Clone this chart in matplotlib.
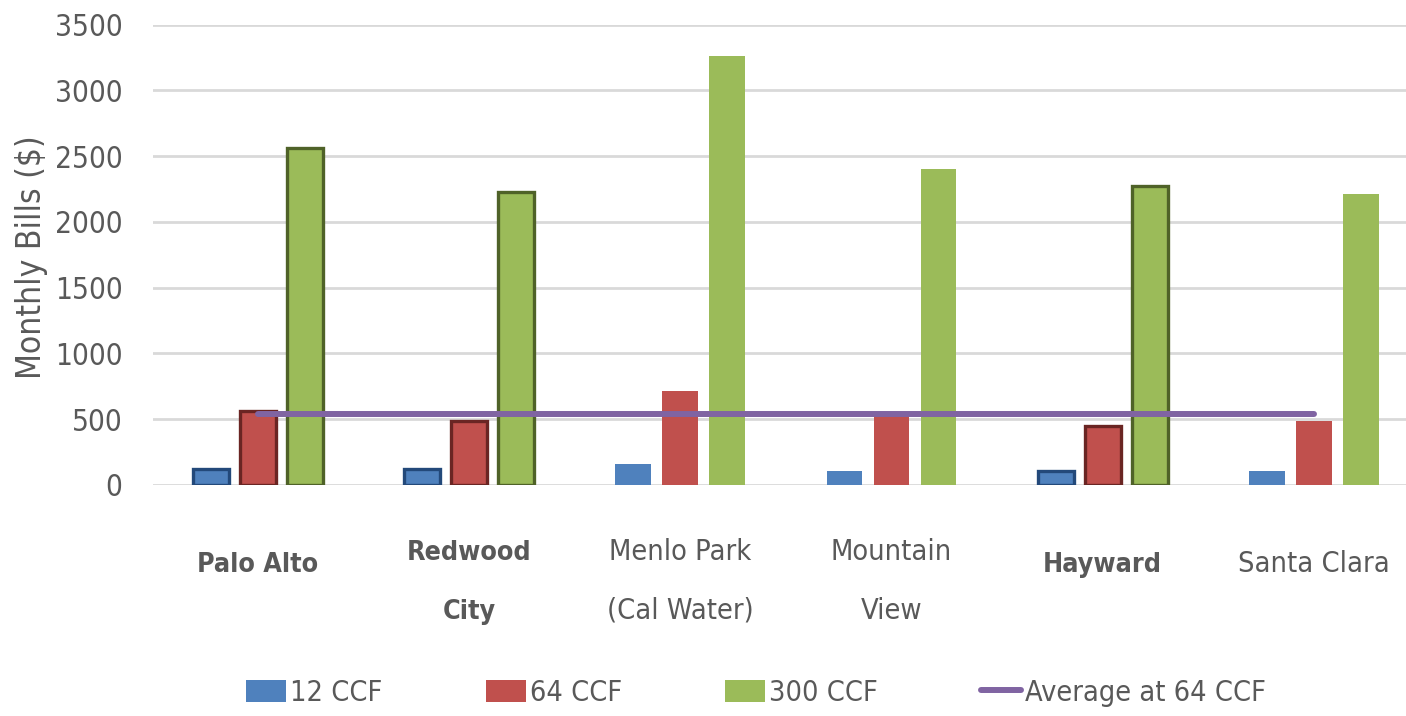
import matplotlib
matplotlib.use("Agg")
import matplotlib.pyplot as plt
from matplotlib import font_manager
from matplotlib.font_manager import FontProperties
from matplotlib.textpath import TextPath
from matplotlib.patches import Patch
from matplotlib.lines import Line2D
from matplotlib.transforms import blended_transform_factory
import numpy as np

# Monthly water bills ($) at three usage levels
cities = ["Palo Alto", "Redwood\nCity", "Menlo Park\n(Cal Water)", "Mountain\nView", "Hayward", "Santa Clara"]
highlighted = [True, True, False, False, True, False]
bill_12 = [125, 125, 160, 110, 105, 110]
bill_64 = [565, 490, 715, 540, 445, 489]
bill_300 = [2565, 2225, 3265, 2400, 2270, 2215]
series_names = ["12 CCF", "64 CCF", "300 CCF"]
avg_name = "Average at 64 CCF"
y_ticks = [0, 500, 1000, 1500, 2000, 2500, 3000, 3500]

PREFS = ["Liberation Sans Narrow", "Roboto Condensed", "Open Sans Condensed",
         "DejaVu Sans Condensed", "Noto Sans Condensed", "Arial Narrow"]


def _weight(f):
    w = f.weight
    if isinstance(w, str):
        w = font_manager.weight_dict.get(w, 400)
    return w


def _narrow_faces():
    out = []
    for f in font_manager.fontManager.ttflist:
        narrowish = ("Narrow" in f.name or "Condensed" in f.name or
                     "Narrow" in f.fname or "Condensed" in f.fname or
                     str(f.stretch) in ("condensed", "semi-condensed", "extra-condensed"))
        if narrowish and f.style == "normal" and "Sans" in (f.name + f.fname) and "Mono" not in f.name:
            out.append(f)
    return out


def _rank(f):
    for i, p in enumerate(PREFS):
        if p.split()[0] in f.name or p.replace(" ", "") in f.fname:
            return i
    return len(PREFS)


def pick_fonts():
    faces = _narrow_faces()
    regs = sorted([f for f in faces if abs(_weight(f) - 400) <= 100],
                  key=lambda f: (abs(_weight(f) - 400), _rank(f)))
    if not regs:
        return (FontProperties(family="Liberation Sans"),
                FontProperties(family="Liberation Sans", weight="bold"))
    reg = regs[0]
    same = [f for f in faces if f.name == reg.name and _weight(f) >= 600]
    if not same:
        same = [f for f in faces if _weight(f) >= 600]
    if same:
        same.sort(key=lambda f: (abs(_weight(f) - 700), f.name != reg.name))
        bold = FontProperties(fname=same[0].fname)
    else:
        bold = FontProperties(fname=reg.fname, weight="bold")
    return FontProperties(fname=reg.fname), bold


fp_reg, fp_bold = pick_fonts()


def fit_size(text, fp, target_px, max_pt):
    p = fp.copy()
    p.set_size(10)
    w = TextPath((0, 0), text, prop=p).get_extents().width / 10.0
    return min(target_px * 72 / 100 / w, max_pt)


def props(fp, size):
    p = fp.copy()
    p.set_size(size)
    return p


tick_size = fit_size("3500", fp_reg, 64, 27.5)
cat_size_reg = fit_size("Santa Clara", fp_reg, 147, 26)
cat_size_bold = fit_size("Palo Alto", fp_bold, 118, 26)
leg_size = fit_size(avg_name, fp_reg, 239, 26)
ylab_size = fit_size("Monthly Bills ($)", fp_reg, 293, 24)

text_color = "#595959"
fills = ["#4F81BD", "#C0504D", "#9BBB59"]
edges = ["#23497A", "#6A2523", "#4F6228"]
avg_color = "#8064A2"

W, H = 1406, 716
fig = plt.figure(figsize=(W / 100, H / 100), dpi=100)
ax = fig.add_axes([153 / W, 1 - 485 / H, (W - 153) / W, (485 - 24.7) / H])

x = np.arange(len(cities))
bar_w = 0.17
offset = 0.2225
for k, vals in enumerate([bill_12, bill_64, bill_300]):
    for i, v in enumerate(vals):
        if highlighted[i]:
            ax.bar(x[i] + (k - 1) * offset, v, width=bar_w, color=fills[k],
                   edgecolor=edges[k], linewidth=2.4, zorder=3)
        else:
            ax.bar(x[i] + (k - 1) * offset, v, width=bar_w, color=fills[k],
                   edgecolor="none", zorder=3)

avg64 = float(np.mean(bill_64))
ax.plot([x[0], x[-1]], [avg64, avg64], color=avg_color, lw=4.3,
        solid_capstyle="round", zorder=4)

ax.set_ylim(0, 3500)
ax.set_xlim(-0.497, 5.436)
ax.set_yticks(y_ticks)
ax.set_yticklabels([str(t) for t in y_ticks], fontproperties=props(fp_reg, tick_size), color=text_color)
ax.tick_params(axis="y", length=0, pad=22)
ax.set_xticks([])
ax.grid(axis="y", color="#D9D9D9", lw=2, zorder=0)
for s in ax.spines.values():
    s.set_visible(False)

fig.text(32 / W, 1 - 257 / H, "Monthly Bills ($)", rotation=90, ha="center", va="center",
         fontproperties=props(fp_reg, ylab_size), color=text_color)

# Category labels under the plot, one text per line
tr = blended_transform_factory(ax.transData, fig.transFigure)
for i, name in enumerate(cities):
    lines = name.split("\n")
    fp, size = (fp_bold, cat_size_bold) if highlighted[i] else (fp_reg, cat_size_reg)
    baselines = [560, 619] if len(lines) == 2 else [572]
    for line, b in zip(lines, baselines):
        ax.text(x[i], 1 - b / H, line, transform=tr, ha="center", va="baseline",
                fontproperties=props(fp, size), color=text_color, clip_on=False)

handles = [Patch(facecolor=fills[k], edgecolor="none") for k in range(3)]
handles.append(Line2D([0], [0], color=avg_color, lw=4.3, solid_capstyle="round"))
em_px = leg_size * 100 / 72
leg = fig.legend(handles, series_names + [avg_name], loc="center",
                 bbox_to_anchor=(756 / W, 1 - 693 / H), ncol=4, frameon=False,
                 prop=props(fp_reg, leg_size), handlelength=40 / em_px, handleheight=24 / em_px,
                 handletextpad=4 / em_px, columnspacing=103 / em_px, borderaxespad=0)
for t in leg.get_texts():
    t.set_color(text_color)

fig.savefig("out.png", dpi=100)
